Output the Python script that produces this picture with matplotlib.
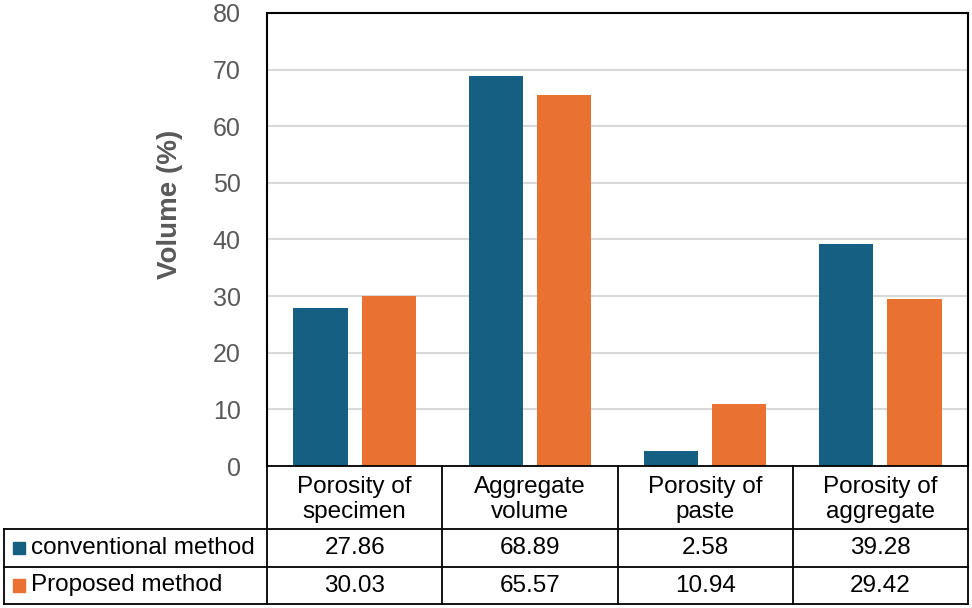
import matplotlib
matplotlib.use("Agg")
import matplotlib.pyplot as plt
import numpy as np
from matplotlib.lines import Line2D
from matplotlib.patches import Rectangle

categories = ["Porosity of\nspecimen", "Aggregate\nvolume", "Porosity of\npaste", "Porosity of\naggregate"]
series_names = ["conventional method", "Proposed method"]
conventional = [27.86, 68.89, 2.58, 39.28]
proposed = [30.03, 65.57, 10.94, 29.42]
yticks = [0, 10, 20, 30, 40, 50, 60, 70, 80]
colors = ["#156082", "#E97132"]

plt.rcParams['font.family'] = ['Liberation Sans', 'DejaVu Sans']

W, H = 972, 608
fig = plt.figure(figsize=(W / 100, H / 100), dpi=100)

def fx(px):
    return px / W

def fy(py):
    return 1 - py / H

L, R, T, B = 267, 968, 13, 466
ax = fig.add_axes([fx(L), fy(B), fx(R) - fx(L), fy(T) - fy(B)])
x = np.arange(len(categories))
bw = 0.31
off = 0.195
ax.bar(x - off, conventional, bw, color=colors[0], zorder=3)
ax.bar(x + off, proposed, bw, color=colors[1], zorder=3)
ax.set_xlim(-0.5, len(categories) - 0.5)
ax.set_ylim(0, 80)
ax.set_yticks(yticks)
ax.set_yticklabels([str(v) for v in yticks], fontsize=18, color="#595959")
ax.tick_params(axis='y', length=0, pad=19)
ax.set_xticks([])
ax.yaxis.grid(True, color="#d9d9d9", linewidth=1.5, zorder=0)
for s in ["left", "top", "right"]:
    ax.spines[s].set_color("black")
    ax.spines[s].set_linewidth(1.5)
ax.spines["bottom"].set_visible(False)

fig.text(fx(170), fy(204), "Volume (%)", rotation=90, ha="center", va="center",
         fontsize=20, fontweight="bold", color="#595959")

# Data table
col_edges = [L + (R - L) * i / len(categories) for i in range(len(categories) + 1)]
row_y = [466, 529, 567, 604]
tl = 4
lw = 1.3
def hline(y, x0, x1):
    fig.add_artist(Line2D([fx(x0), fx(x1)], [fy(y), fy(y)], color="black", lw=lw))
def vline(xp, y0, y1):
    fig.add_artist(Line2D([fx(xp), fx(xp)], [fy(y0), fy(y1)], color="black", lw=lw))

hline(row_y[0], L, R)
hline(row_y[1], tl, R)
hline(row_y[2], tl, R)
hline(row_y[3], tl, R)
vline(tl, row_y[1], row_y[3])
for i, ce in enumerate(col_edges):
    vline(ce, row_y[0], row_y[3])

for i, cat in enumerate(categories):
    cx = (col_edges[i] + col_edges[i + 1]) / 2
    fig.text(fx(cx), fy((row_y[0] + row_y[1]) / 2 + 2), cat, ha="center", va="center",
             fontsize=17.5, color="black", linespacing=1.15)

rows = [conventional, proposed]
for r, (name, vals) in enumerate(zip(series_names, rows)):
    cy = (row_y[r + 1] + row_y[r + 2]) / 2
    fig.add_artist(Rectangle((fx(12.5), fy(cy + 6)), fx(12.5), 12.5 / H, color=colors[r],
                             transform=fig.transFigure))
    fig.text(fx(31), fy(cy), name, ha="left", va="center", fontsize=17.5, color="black")
    for i, v in enumerate(vals):
        cx = (col_edges[i] + col_edges[i + 1]) / 2
        fig.text(fx(cx), fy(cy), f"{v:.2f}", ha="center", va="center", fontsize=17.5, color="black")

fig.savefig("out.png", dpi=100, facecolor="white")
